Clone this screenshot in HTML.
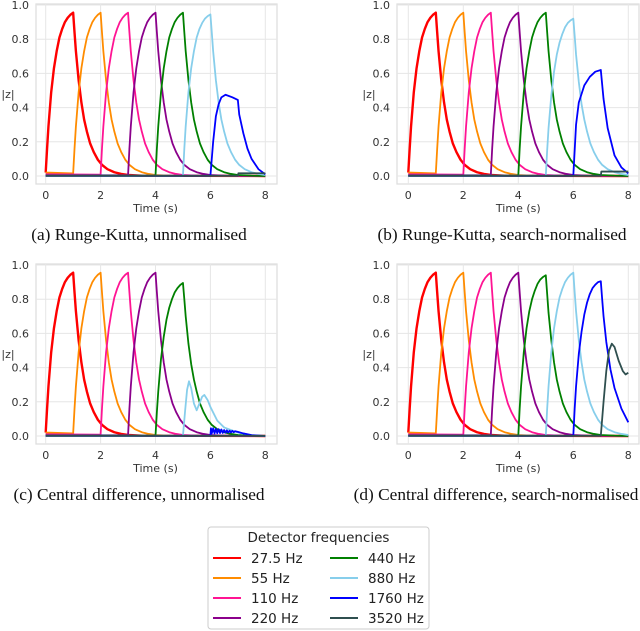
<!DOCTYPE html>
<html><head><meta charset="utf-8"><style>
html,body{margin:0;padding:0;background:#fff}
svg{display:block}
.tk{font-family:"DejaVu Sans","Liberation Sans",sans-serif;font-size:11px;fill:#333}
.cap{font-family:"Liberation Serif","DejaVu Serif",serif;font-size:17.3px;fill:#111}
.lg{font-family:"DejaVu Sans","Liberation Sans",sans-serif;font-size:13.5px;fill:#222}
</style></head><body>
<svg id="fig" width="640" height="631" viewBox="0 0 640 631" xmlns="http://www.w3.org/2000/svg"></svg>
<script>
const xTicks = [0,2,4,6,8];
const yTicks = [0.0,0.2,0.4,0.6,0.8,1.0];
const names = ["27.5 Hz","55 Hz","110 Hz","220 Hz","440 Hz","880 Hz","1760 Hz","3520 Hz"];
const colors = ["#ff0000","#ff8c00","#ff1493","#8b008b","#008000","#87ceeb","#0000ff","#2f4f4f"];
const captions = ["(a) Runge-Kutta, unnormalised","(b) Runge-Kutta, search-normalised","(c) Central difference, unnormalised","(d) Central difference, search-normalised"];

const red = [[0,0.02],[0.05,0.16],[0.1,0.29],[0.2,0.49],[0.3,0.63],[0.4,0.73],[0.5,0.81],[0.6,0.86],[0.7,0.9],[0.8,0.925],[0.9,0.943],[1,0.955],[1.05,0.84],[1.1,0.73],[1.2,0.56],[1.3,0.43],[1.4,0.33],[1.5,0.26],[1.62,0.19],[1.75,0.14],[1.9,0.095],[2.05,0.065],[2.25,0.04],[2.5,0.022],[2.75,0.012],[3,0.006],[3.5,0.002],[8,0]];
const orange = [[0,0.02],[1,0.015],[1.05,0.16],[1.1,0.29],[1.2,0.49],[1.3,0.63],[1.4,0.73],[1.5,0.81],[1.6,0.86],[1.7,0.9],[1.8,0.925],[1.9,0.943],[2,0.955],[2.05,0.84],[2.1,0.73],[2.2,0.56],[2.3,0.43],[2.4,0.33],[2.5,0.26],[2.62,0.19],[2.75,0.14],[2.9,0.095],[3.05,0.065],[3.25,0.04],[3.5,0.022],[3.75,0.012],[4,0.006],[4.5,0.002],[8,0]];
const pink = [[0,0.01],[2,0.008],[2.05,0.16],[2.1,0.29],[2.2,0.49],[2.3,0.63],[2.4,0.73],[2.5,0.81],[2.6,0.86],[2.7,0.9],[2.8,0.925],[2.9,0.943],[3,0.955],[3.05,0.84],[3.1,0.73],[3.2,0.56],[3.3,0.43],[3.4,0.33],[3.5,0.26],[3.62,0.19],[3.75,0.14],[3.9,0.095],[4.05,0.065],[4.25,0.04],[4.5,0.022],[4.75,0.012],[5,0.006],[5.5,0.002],[8,0]];
const purple = [[0,0.004],[3,0.004],[3.05,0.16],[3.1,0.29],[3.2,0.49],[3.3,0.63],[3.4,0.73],[3.5,0.81],[3.6,0.86],[3.7,0.9],[3.8,0.925],[3.9,0.943],[4,0.955],[4.05,0.84],[4.1,0.73],[4.2,0.56],[4.3,0.43],[4.4,0.33],[4.5,0.26],[4.62,0.19],[4.75,0.14],[4.9,0.095],[5.05,0.065],[5.25,0.04],[5.5,0.022],[5.75,0.012],[6,0.006],[6.5,0.002],[8,0]];
const greenA = [[0,0.002],[4,0.002],[4.05,0.16],[4.1,0.29],[4.2,0.49],[4.3,0.63],[4.4,0.73],[4.5,0.81],[4.6,0.86],[4.7,0.9],[4.8,0.925],[4.9,0.943],[5,0.955],[5.05,0.84],[5.1,0.73],[5.2,0.56],[5.3,0.43],[5.4,0.33],[5.5,0.26],[5.62,0.19],[5.75,0.14],[5.9,0.095],[6.05,0.065],[6.25,0.04],[6.5,0.022],[6.75,0.012],[7,0.006],[7.5,0.002],[8,0]];
const greenC = [[0,0.002],[4,0.002],[4.05,0.14],[4.1,0.26],[4.2,0.45],[4.3,0.58],[4.4,0.68],[4.5,0.75],[4.6,0.8],[4.7,0.84],[4.8,0.865],[4.9,0.883],[5,0.895],[5.05,0.8],[5.1,0.7],[5.2,0.54],[5.3,0.42],[5.4,0.33],[5.5,0.26],[5.62,0.19],[5.75,0.14],[5.9,0.095],[6.05,0.065],[6.25,0.04],[6.5,0.022],[6.75,0.012],[7,0.006],[7.5,0.002],[8,0]];
const greenD = [[0,0.002],[4,0.002],[4.05,0.16],[4.1,0.29],[4.2,0.49],[4.3,0.63],[4.4,0.73],[4.5,0.8],[4.6,0.85],[4.7,0.89],[4.8,0.915],[4.9,0.93],[5,0.94],[5.05,0.83],[5.1,0.72],[5.2,0.56],[5.3,0.43],[5.4,0.33],[5.5,0.26],[5.62,0.19],[5.75,0.14],[5.9,0.095],[6.05,0.065],[6.25,0.04],[6.5,0.022],[6.75,0.012],[7,0.006],[7.5,0.002],[8,0]];
const skyA = [[0,0.001],[5,0.001],[5.05,0.16],[5.1,0.29],[5.2,0.49],[5.3,0.63],[5.4,0.73],[5.5,0.81],[5.6,0.86],[5.7,0.895],[5.8,0.92],[5.9,0.935],[6,0.945],[6.05,0.84],[6.1,0.73],[6.2,0.56],[6.3,0.43],[6.4,0.33],[6.5,0.26],[6.62,0.19],[6.75,0.14],[6.9,0.095],[7.05,0.065],[7.25,0.04],[7.5,0.022],[7.75,0.012],[8,0.006]];
const skyB = [[0,0.001],[5,0.001],[5.05,0.15],[5.1,0.28],[5.2,0.47],[5.3,0.61],[5.4,0.71],[5.5,0.78],[5.6,0.83],[5.7,0.87],[5.8,0.895],[5.9,0.91],[6,0.92],[6.05,0.82],[6.1,0.71],[6.2,0.55],[6.3,0.42],[6.4,0.33],[6.5,0.26],[6.62,0.19],[6.75,0.14],[6.9,0.095],[7.05,0.065],[7.25,0.04],[7.5,0.022],[7.75,0.012],[8,0.006]];
const skyC = [[0,0.001],[5,0.001],[5.08,0.15],[5.15,0.27],[5.22,0.32],[5.3,0.28],[5.4,0.19],[5.5,0.15],[5.6,0.19],[5.7,0.23],[5.78,0.24],[5.9,0.21],[6,0.17],[6.25,0.09],[6.5,0.05],[7,0.02],[7.5,0.005],[8,0]];
const skyD = [[0,0.001],[5,0.001],[5.05,0.16],[5.1,0.29],[5.2,0.49],[5.3,0.63],[5.4,0.73],[5.5,0.81],[5.6,0.86],[5.7,0.9],[5.8,0.925],[5.9,0.943],[6,0.955],[6.05,0.84],[6.1,0.73],[6.2,0.56],[6.3,0.43],[6.4,0.33],[6.5,0.26],[6.62,0.19],[6.75,0.14],[6.9,0.095],[7.05,0.065],[7.25,0.04],[7.5,0.022],[7.75,0.012],[8,0.006]];
const blueA = [[0,0.001],[6,0.001],[6.1,0.2],[6.2,0.35],[6.3,0.42],[6.4,0.46],[6.55,0.475],[6.8,0.46],[7,0.445],[7.05,0.36],[7.2,0.25],[7.35,0.16],[7.5,0.1],[7.75,0.04],[8,0.01]];
const blueB = [[0,0.001],[6,0.001],[6.1,0.3],[6.2,0.43],[6.4,0.53],[6.6,0.58],[6.8,0.61],[7,0.62],[7.1,0.45],[7.25,0.28],[7.5,0.12],[7.75,0.05],[8,0.015]];
const blueC = [[0,0.001],[6,0.001],[6.02,0.045],[6.05,0.015],[6.1,0.045],[6.15,0.015],[6.2,0.042],[6.25,0.016],[6.3,0.04],[6.35,0.017],[6.4,0.038],[6.45,0.018],[6.5,0.035],[6.55,0.019],[6.6,0.033],[6.65,0.02],[6.7,0.031],[6.75,0.021],[6.8,0.03],[6.85,0.022],[6.9,0.028],[7,0.024],[7.2,0.015],[7.5,0.005],[8,0]];
const blueD = [[0,0.001],[6,0.001],[6.05,0.16],[6.1,0.29],[6.2,0.48],[6.3,0.61],[6.4,0.71],[6.5,0.78],[6.6,0.83],[6.7,0.865],[6.8,0.885],[6.9,0.9],[7,0.905],[7.05,0.8],[7.1,0.7],[7.2,0.55],[7.35,0.39],[7.5,0.28],[7.75,0.16],[8,0.08]];
const darkA = [[0,0.001],[7,0.001],[7.02,0.016],[8,0.016]];
const darkB = [[0,0.001],[7,0.001],[7.02,0.026],[8,0.026]];
const darkC = [[0,0.001],[8,0.001]];
const darkD = [[0,0.001],[7,0.001],[7.1,0.2],[7.2,0.38],[7.3,0.5],[7.4,0.54],[7.5,0.52],[7.65,0.44],[7.8,0.38],[7.9,0.36],[8,0.37]];

const panelSeries = [
  [red,orange,pink,purple,greenA,skyA,blueA,darkA],
  [red,orange,pink,purple,greenA,skyB,blueB,darkB],
  [red,orange,pink,purple,greenC,skyC,blueC,darkC],
  [red,orange,pink,purple,greenD,skyD,blueD,darkD]
];
const panelKeys = ["a","b","c","d"];

const NS = "http://www.w3.org/2000/svg";
const svg = document.getElementById("fig");
function mk(tag, attrs, parent){ const e=document.createElementNS(NS,tag); for(const k in attrs) e.setAttribute(k,attrs[k]); (parent||svg).appendChild(e); return e; }

const layouts = [
  {fx0:36,fx1:277,fy0:4,fy1:184,x0:45.7,x1:265.3,y0:176,y1:5,ylab:8,ytk:29,cap:139},
  {fx0:397,fx1:639,fy0:4,fy1:184,x0:408.3,x1:628.3,y0:176,y1:5,ylab:369,ytk:390,cap:502},
  {fx0:36,fx1:277,fy0:264,fy1:444,x0:45.7,x1:265.3,y0:436,y1:265,ylab:8,ytk:29,cap:139},
  {fx0:397,fx1:639,fy0:264,fy1:444,x0:408.3,x1:628.3,y0:436,y1:265,ylab:369,ytk:390,cap:496}
];

layouts.forEach((L,pi)=>{
  const g = mk("g",{});
  
  
  const sx = v => L.x0 + (L.x1-L.x0)*v/8;
  const sy = v => L.y0 + (L.y1-L.y0)*v;
  const frame = mk("rect",{x:L.fx0,y:L.fy0,width:L.fx1-L.fx0,height:L.fy1-L.fy0,fill:"#fff",stroke:"#dcdcdc","stroke-width":1.2},g);
  
  
  xTicks.forEach(t=>{
    mk("line",{x1:sx(t),x2:sx(t),y1:L.fy0,y2:L.fy1,stroke:"#e6e6e6","stroke-width":1},g);
    const tx = mk("text",{x:sx(t),y:L.fy1+15,"text-anchor":"middle",class:"tk"},g);
    tx.textContent = t;
    
    
  });
  yTicks.forEach(t=>{
    mk("line",{x1:L.fx0,x2:L.fx1,y1:sy(t),y2:sy(t),stroke:"#e6e6e6","stroke-width":1},g);
    const tx = mk("text",{x:L.ytk,y:sy(t)+4,"text-anchor":"end",class:"tk"},g);
    tx.textContent = t.toFixed(1);
    
    
  });
  const yl = mk("text",{x:L.ylab,y:(L.fy0+L.fy1)/2+4,"text-anchor":"middle",class:"tk"},g);
  yl.textContent = "|z|";
  
  
  const xl = mk("text",{x:(L.x0+L.x1)/2,y:L.fy1+28,"text-anchor":"middle",class:"tk"},g);
  xl.textContent = "Time (s)";
  
  
  panelSeries[pi].forEach((data,si)=>{
    const d = data.map((p,i)=>(i?"L":"M")+sx(p[0]).toFixed(2)+","+sy(p[1]).toFixed(2)).join("");
    const path = mk("path",{d:d,fill:"none",stroke:colors[si],"stroke-width":si===0?2.4:1.8,"stroke-linejoin":"round"},g);
    
    
  });
  const cap = mk("text",{x:L.cap,y:L.fy1+56,"text-anchor":"middle",class:"cap"});
  cap.textContent = captions[pi];
  
  
});

const lg = mk("g",{});


mk("rect",{x:208,y:527,width:221,height:102,rx:3,fill:"#fff",stroke:"#cccccc","stroke-width":1},lg);
const lt = mk("text",{x:318.5,y:542,"text-anchor":"middle",class:"lg"},lg);
lt.textContent = "Detector frequencies";


names.forEach((n,i)=>{
  const col = Math.floor(i/4), row = i%4;
  const lx = col ? 330 : 213, y = 558 + row*20;
  const e = mk("g",{},lg);
  
  
  mk("line",{x1:lx,x2:lx+28,y1:y,y2:y,stroke:colors[i],"stroke-width":2},e);
  const t = mk("text",{x:lx+38,y:y+5,class:"lg"},e);
  t.textContent = n;
});
</script>
</body></html>
